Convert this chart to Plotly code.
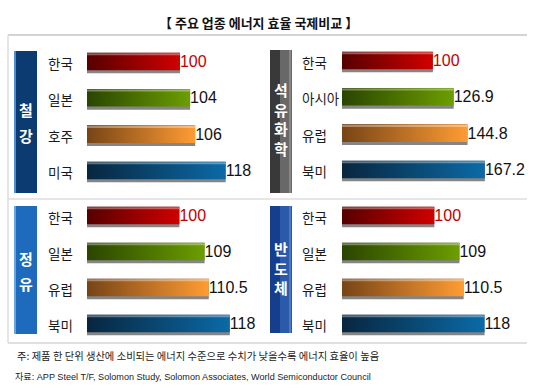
import plotly.graph_objects as go

W, H = 540, 392

# ---------------- data ----------------
panel_titles = ["철강", "석유화학", "정유", "반도체"]
countries_steel = ["한국", "일본", "호주", "미국"]
countries_petchem = ["한국", "아시아", "유럽", "북미"]
countries_refining = ["한국", "일본", "유럽", "북미"]
countries_semi = ["한국", "일본", "유럽", "북미"]
values_steel = [100, 104, 106, 118]
values_petchem = [100, 126.9, 144.8, 167.2]
values_refining = [100, 109, 110.5, 118]
values_semi = [100, 109, 110.5, 118]
chart_title = "【 주요 업종 에너지 효율 국제비교 】"
note_text = "주: 제품 한 단위 생산에 소비되는 에너지 수준으로 수치가 낮을수록 에너지 효율이 높음"
source_text = "자료: APP Steel T/F, Solomon Study, Solomon Associates, World Semiconductor Council"

countries = [countries_steel, countries_petchem, countries_refining, countries_semi]
values = [values_steel, values_petchem, values_refining, values_semi]

# ---------------- styles ----------------
KR = "Noto Sans CJK KR"
LAT = "Liberation Sans Narrow, Liberation Sans, Arial, Noto Sans CJK KR"
bar_grad = [("#560000", "#d00000"),   # red
            ("#2a4500", "#6c9e00"),   # green
            ("#774416", "#ff9c34"),   # orange
            ("#08263f", "#0b6aa6")]   # blue
val_colors = ["#c00000", "#111111", "#111111", "#111111"]


def px(p):
    return p / W


def py(p):
    return 1 - p / H


# panel geometry (pixels)
panels = [
    dict(xd=(87, 262), r0=63.4, ppu=2.54, yc=(63, 172), lab_x=46,
         box=(14, 37, 51, 193), chars_x=25.5, chars_y=[110, 135], multi=None,
         box_fill=[(14, 37, "#0b3b70"), (14, 16, "#4a8fd6")]),
    dict(xd=(342, 527), r0=-17.4, ppu=0.774, yc=(62, 171), lab_x=300,
         box=(270, 292, 50, 193), chars_x=281, chars_y=None, multi=119,
         box_fill=[(270, 292, "#393939"), (280, 292, "#686868"), (289, 291, "#888888")]),
    dict(xd=(87, 262), r0=67.0, ppu=2.80, yc=(217, 325), lab_x=46,
         box=(14, 37, 206, 334), chars_x=25.5, chars_y=[258, 283], multi=None,
         box_fill=[(14, 37, "#1e6abd"), (14, 16, "#68a4e4")]),
    dict(xd=(342, 527), r0=66.9, ppu=2.79, yc=(217, 325), lab_x=300,
         box=(270, 292, 206, 333), chars_x=281, chars_y=None, multi=268,
         box_fill=[(270, 292, "#163e8d"), (280, 292, "#2b5aab"), (289, 291, "#4a78c4")]),
]

fig = go.Figure()
layout_axes = {}
shapes = []
annotations = []

for k, (p, title, cats, vals) in enumerate(zip(panels, panel_titles, countries, values)):
    n = k + 1
    xa = "x" if n == 1 else f"x{n}"
    ya = "y" if n == 1 else f"y{n}"
    xkey = "xaxis" if n == 1 else f"xaxis{n}"
    ykey = "yaxis" if n == 1 else f"yaxis{n}"
    r0 = p["r0"]
    x_end = r0 + (p["xd"][1] - p["xd"][0]) / p["ppu"]
    sp = (p["yc"][1] - p["yc"][0]) / 3
    ytop, ybot = p["yc"][0] - sp / 2, p["yc"][1] + sp / 2
    layout_axes[xkey] = dict(domain=[px(p["xd"][0]), px(p["xd"][1])], range=[r0, x_end],
                             visible=False, fixedrange=True, anchor=ya)
    layout_axes[ykey] = dict(domain=[py(ybot), py(ytop)], range=[3.5, -0.5],
                             visible=False, fixedrange=True, anchor=xa)
    idx = list(range(len(cats)))

    # shadow bar (library bar trace)
    fig.add_trace(go.Bar(y=idx, x=[v - r0 for v in vals], base=r0, orientation="h",
                         width=0.57, marker=dict(color="#858585", line=dict(width=0)),
                         xaxis=xa, yaxis=ya, showlegend=False, hoverinfo="skip"))
    # gradient body of each bar
    for i, v in enumerate(vals):
        dark, bright = bar_grad[i]
        fig.add_trace(go.Scatter(
            x=[r0, v, v, r0, r0], y=[i - 0.285, i - 0.285, i + 0.2, i + 0.2, i - 0.285],
            fill="toself", mode="lines", line=dict(width=0),
            fillgradient=dict(type="horizontal", colorscale=[[0, dark], [1, bright]]),
            xaxis=xa, yaxis=ya, showlegend=False, hoverinfo="skip"))
        fig.add_trace(go.Scatter(
            x=[r0, v], y=[i - 0.24, i - 0.24], mode="lines",
            line=dict(color="rgba(255,255,255,0.35)", width=2),
            xaxis=xa, yaxis=ya, showlegend=False, hoverinfo="skip"))
    # value labels
    fig.add_trace(go.Scatter(
        x=vals, y=idx, mode="text", text=[f"{v:g}" for v in vals],
        textposition="middle right",
        textfont=dict(family=LAT, size=16, color=val_colors),
        xaxis=xa, yaxis=ya, showlegend=False, hoverinfo="skip"))
    # category labels
    for i, c in enumerate(cats):
        annotations.append(dict(x=px(p["lab_x"]), y=i, xref="paper", yref=ya, text=c,
                                showarrow=False, xanchor="left", yanchor="middle",
                                font=dict(family=KR, size=13.5, color="#1a1a1a")))
    # panel title box
    bx0, bx1, by0, by1 = p["box"]
    for (a, b, col) in p["box_fill"]:
        shapes.append(dict(type="rect", xref="paper", yref="paper", x0=px(a), x1=px(b),
                           y0=py(by1), y1=py(by0), fillcolor=col, line=dict(width=0),
                           layer="below"))
    if p["multi"] is None:
        for ch, cy in zip(title, p["chars_y"]):
            annotations.append(dict(x=px(p["chars_x"]), y=py(cy), xref="paper", yref="paper",
                                    text=f"<b>{ch}</b>", showarrow=False,
                                    xanchor="center", yanchor="middle",
                                    font=dict(family=KR, size=15, color="white")))
    else:
        annotations.append(dict(x=px(p["chars_x"]), y=py(p["multi"]), xref="paper",
                                yref="paper",
                                text="<br>".join(f"<b>{ch}</b>" for ch in title),
                                showarrow=False, xanchor="center", yanchor="middle",
                                font=dict(family=KR, size=15, color="white")))

# frame lines
for (x0, y0, x1, y1, w, col) in [(8, 35, 527, 35, 2, "#d4d4d4"),
                                 (8, 35, 8, 343, 1.5, "#dedede"),
                                 (8, 343, 527, 343, 1.5, "#d6d6d6"),
                                 (8, 199, 527, 199, 1.5, "#dedede")]:
    shapes.append(dict(type="line", xref="paper", yref="paper", x0=px(x0), x1=px(x1),
                       y0=py(y0), y1=py(y1), line=dict(color=col, width=w), layer="below"))

annotations.append(dict(x=px(258), y=py(22), xref="paper", yref="paper",
                        text=f"<b>{chart_title}</b>", showarrow=False,
                        xanchor="center", yanchor="middle",
                        font=dict(family=KR, size=13, color="#111111")))
annotations.append(dict(x=px(15), y=py(355), xref="paper", yref="paper", text=note_text,
                        showarrow=False, xanchor="left", yanchor="middle",
                        font=dict(family=KR, size=10.3, color="#222222")))
annotations.append(dict(x=px(13), y=py(377), xref="paper", yref="paper", text=source_text,
                        showarrow=False, xanchor="left", yanchor="middle",
                        font=dict(family=LAT, size=9.1, color="#222222")))

fig.update_layout(width=W, height=H, margin=dict(l=0, r=0, t=0, b=0),
                  paper_bgcolor="white", plot_bgcolor="rgba(0,0,0,0)",
                  barmode="overlay", showlegend=False,
                  shapes=shapes, annotations=annotations, **layout_axes)

fig.write_html("out.html", config={"displayModeBar": False},
               post_script="document.body.style.margin='0px';")
